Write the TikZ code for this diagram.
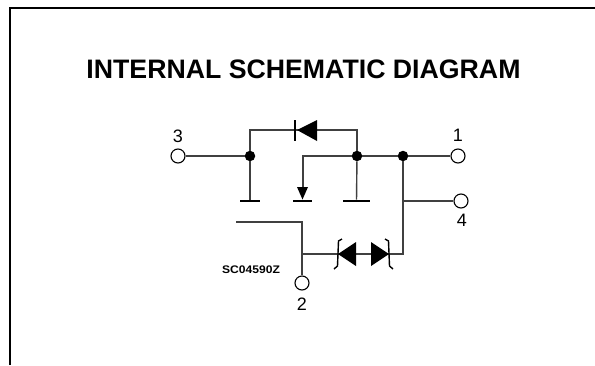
\documentclass[tikz,border=0pt]{standalone}
\usepackage{fontspec}
\setmainfont{Liberation Sans}
\tikzset{%
	term/.style={draw, circle, minimum size=14pt, inner sep=0pt, line width=1.1pt},
	junc/.style={fill=black, circle, minimum size=10.5pt, inner sep=0pt},
	gbar/.style={fill=black, rectangle, minimum height=2.4pt, inner sep=0pt},
	wire/.style={line width=1.4pt, black!75},
	frameline/.style={line width=2.6pt},
	zen/.style={line width=1.4pt},
	pinlabel/.style={font=\fontsize{18}{20}\selectfont, inner sep=0pt},
	title/.style={font=\fontsize{26.7}{30}\selectfont\bfseries, inner sep=0pt},
	code/.style={font=\fontsize{11}{13}\selectfont\bfseries, inner sep=0pt, xscale=1.1}
}
\begin{document}
\begin{tikzpicture}[x=1pt, y=-1pt]
	\useasboundingbox (0,0) rectangle (595,365);

	\coordinate (fa) at (10,365);
	\coordinate (fb) at (10,8);
	\coordinate (fc) at (595,8);
	\draw[frameline] (fa) -- (fb) -- (fc);

	\node[title] (head) at (303.5,69.5) {INTERNAL SCHEMATIC DIAGRAM};

	\node[term] (t3) at (178,156) {};
	\node[term] (t1) at (458,156) {};
	\node[term] (t4) at (461,201) {};
	\node[term] (t2) at (302,283) {};
	\node[pinlabel] (l3) at (178,136) {3};
	\node[pinlabel] (l1) at (458,135) {1};
	\node[pinlabel] (l4) at (462,220) {4};
	\node[pinlabel] (l2) at (302,304) {2};
	\node[code] (id) at (251,270) {SC04590Z};

	\node[junc] (j3) at (250,156) {};
	\node[junc] (js) at (357,156) {};
	\node[junc] (j1) at (403,156) {};

	\node[gbar, minimum width=20pt] (g3) at (250,201) {};
	\node[gbar, minimum width=19pt] (gm) at (302.5,201) {};
	\node[gbar, minimum width=27pt] (gs) at (356.5,201) {};

	\coordinate (c3) at (250,130);
	\coordinate (cs) at (357,130);
	\coordinate (cm) at (303,156);
	\coordinate (cd) at (303,188);
	\coordinate (k4) at (403,201);
	\coordinate (k2) at (403,254);
	\coordinate (a1) at (236,222);
	\coordinate (a2) at (302,222);
	\coordinate (a3) at (302,254);

	\draw[wire] (t3) -- (j3);
	\draw[wire] (j3) -- (c3) -- (cs) -- (js);
	\draw[wire] (j3) -- (g3);
	\draw[wire] (js) -- (gs);
	\draw[wire] (js) -- (j1);
	\draw[wire] (j1) -- (t1);
	\draw[wire] (js) -- (cm) -- (cd);
	\draw[wire] (j1) -- (k4) -- (k2) -- (a3);
	\draw[wire] (k4) -- (t4);
	\draw[wire] (a1) -- (a2) -- (t2);

	\fill (297,130) -- (317,120) -- (317,141) -- cycle;
	\draw[line width=2pt] (295,120) -- (295,141);
	\fill (297,187) -- (308,187) -- (302.5,199.5) -- cycle;

	\fill (338,254) -- (356,242) -- (356,266) -- cycle;
	\fill (389,254) -- (371,242) -- (371,266) -- cycle;
	\draw[zen] (342,239) -- (338.5,241) -- (337.5,266) -- (334,269);
	\draw[zen] (385,239) -- (388.5,241) -- (389.5,266) -- (393,269);
\end{tikzpicture}
\end{document}
